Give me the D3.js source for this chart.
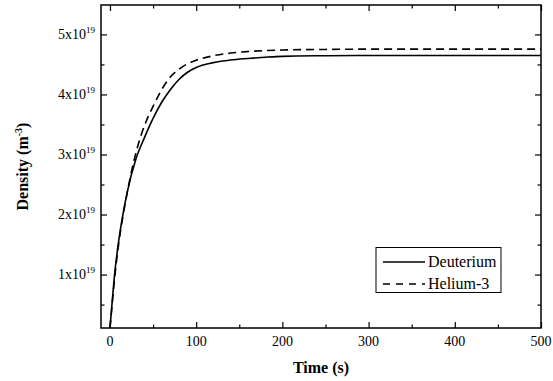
<!DOCTYPE html>
<html>
<head>
<meta charset="utf-8">
<script src="https://cdn.jsdelivr.net/npm/d3@7"></script>
<style>
  html, body { margin: 0; padding: 0; background: #fff; }
  svg { display: block; }
</style>
</head>
<body>
<svg id="chart" width="553" height="381"></svg>
<script>
// ---- data (density in units of 1e19 m^-3) ----
const deutTime = [0, 2, 5, 10, 15, 20, 30, 40, 50, 60, 70, 80, 90, 100, 120, 140, 160, 180, 200, 250, 300, 400, 500];
const deutDensity = [0.11, 0.45, 0.95, 1.55, 2.0, 2.37, 2.92, 3.28, 3.6, 3.87, 4.08, 4.25, 4.37, 4.45, 4.53, 4.575, 4.60, 4.62, 4.635, 4.645, 4.65, 4.65, 4.65];
const heTime = [0, 2, 5, 10, 15, 20, 25, 30, 40, 45, 50, 60, 70, 80, 90, 100, 120, 140, 160, 180, 200, 250, 300, 400, 500];
const heDensity = [0.11, 0.42, 0.88, 1.5, 1.97, 2.36, 2.72, 3.02, 3.48, 3.65, 3.8, 4.08, 4.29, 4.42, 4.51, 4.57, 4.645, 4.69, 4.715, 4.73, 4.74, 4.75, 4.755, 4.755, 4.755];
const seriesNames = ["Deuterium", "Helium-3"];
const xTickValues = [0, 100, 200, 300, 400, 500];
const xMinorTicks = [50, 150, 250, 350, 450];
const yTickValues = [1, 2, 3, 4, 5];
const yMinorTicks = [0.5, 1.5, 2.5, 3.5, 4.5];

const FONT = "'Liberation Serif', 'Times New Roman', Times, 'DejaVu Serif', serif";
const svg = d3.select("#chart").attr("font-family", FONT).style("font-family", FONT);
const L = 101, R = 541, T = 5, B = 328;

const x = d3.scaleLinear().domain([-10.4, 500]).range([L, R]);
const y = d3.scaleLinear().domain([0.11, 5.49]).range([B, T]);

const dash = "8,5";

svg.append("clipPath").attr("id", "clip")
  .append("rect").attr("x", L).attr("y", T).attr("width", R - L).attr("height", B - T);

const line = d3.line().x(d => x(d[0])).y(d => y(d[1])).curve(d3.curveMonotoneX);
const deutData = deutTime.map((t, i) => [t, deutDensity[i]]);
const heData = heTime.map((t, i) => [t, heDensity[i]]);

const g = svg.append("g").attr("clip-path", "url(#clip)");
g.append("path").datum(heData).attr("d", line)
  .attr("fill", "none").attr("stroke", "#000").attr("stroke-width", 1.6)
  .attr("stroke-dasharray", dash);
g.append("path").datum(deutData).attr("d", line)
  .attr("fill", "none").attr("stroke", "#000").attr("stroke-width", 1.6);

const major = 6, minor = 3.5;
const axStyle = sel => {
  sel.select(".domain").remove();
  sel.selectAll("line").attr("stroke", "#000").attr("stroke-width", 1.2);
};
function ticks(gen, tr) {
  svg.append("g").attr("transform", tr).call(gen).call(axStyle);
}
ticks(d3.axisTop(x).tickValues(xTickValues).tickSize(major).tickFormat(""), `translate(0,${B})`);
ticks(d3.axisTop(x).tickValues(xMinorTicks).tickSize(minor).tickFormat(""), `translate(0,${B})`);
ticks(d3.axisBottom(x).tickValues(xTickValues).tickSize(major).tickFormat(""), `translate(0,${T})`);
ticks(d3.axisBottom(x).tickValues(xMinorTicks).tickSize(minor).tickFormat(""), `translate(0,${T})`);
ticks(d3.axisRight(y).tickValues(yTickValues).tickSize(major).tickFormat(""), `translate(${L},0)`);
ticks(d3.axisRight(y).tickValues(yMinorTicks).tickSize(minor).tickFormat(""), `translate(${L},0)`);
ticks(d3.axisLeft(y).tickValues(yTickValues).tickSize(major).tickFormat(""), `translate(${R},0)`);
ticks(d3.axisLeft(y).tickValues(yMinorTicks).tickSize(minor).tickFormat(""), `translate(${R},0)`);

svg.append("rect").attr("x", L).attr("y", T).attr("width", R - L).attr("height", B - T)
  .attr("fill", "none").attr("stroke", "#000").attr("stroke-width", 1.5);

const txt = sel => sel.attr("font-family", FONT).style("font-family", FONT).attr("fill", "#000");

svg.append("g").selectAll("text").data(xTickValues).join("text")
  .call(txt)
  .attr("x", d => x(d)).attr("y", B + 18)
  .attr("text-anchor", "middle").attr("font-size", 14)
  .text(d => d);

const yl = svg.append("g").selectAll("text").data(yTickValues).join("text")
  .call(txt)
  .attr("x", 95).attr("y", d => y(d) + 4.5)
  .attr("text-anchor", "end").attr("font-size", 14);
yl.append("tspan").text(d => d + "x10");
yl.append("tspan").attr("dy", -6).attr("font-size", 9).text("19");

svg.append("text").call(txt).attr("x", (L + R) / 2).attr("y", 373)
  .attr("text-anchor", "middle").attr("font-size", 16).attr("font-weight", "bold")
  .text("Time (s)");
const yt = svg.append("text").call(txt)
  .attr("transform", `translate(28,${(T + B) / 2}) rotate(-90)`)
  .attr("text-anchor", "middle").attr("font-size", 16).attr("font-weight", "bold");
yt.append("tspan").text("Density (m");
yt.append("tspan").attr("dy", -6).attr("font-size", 10).text("-3");
yt.append("tspan").attr("dy", 6).text(")");

const lg = svg.append("g");
lg.append("rect").attr("x", 376).attr("y", 247.5).attr("width", 125).attr("height", 45)
  .attr("fill", "#fff").attr("stroke", "#000").attr("stroke-width", 1);
const legY = [262, 284];
seriesNames.forEach((name, i) => {
  lg.append("line").attr("x1", 383).attr("x2", 425).attr("y1", legY[i]).attr("y2", legY[i])
    .attr("stroke", "#000").attr("stroke-width", 1.6)
    .attr("stroke-dasharray", i === 1 ? "7,6" : null);
  lg.append("text").call(txt).attr("x", 428).attr("y", legY[i] + 5)
    .attr("font-size", 16).text(name);
});
</script>
</body>
</html>
